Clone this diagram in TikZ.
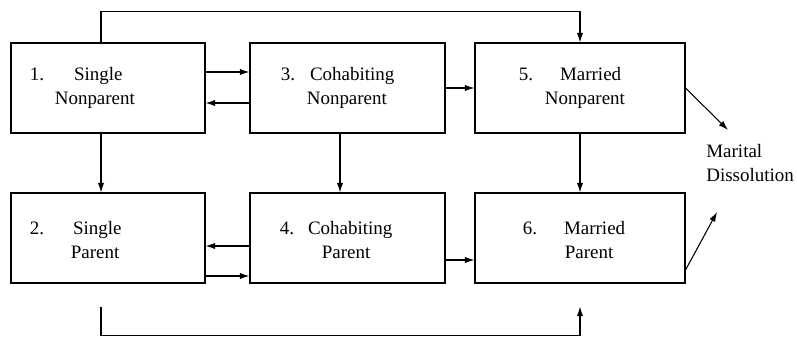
\documentclass[tikz,border=0pt]{standalone}
\usepackage{fontspec}
\setmainfont{Liberation Serif}
\usetikzlibrary{positioning,arrows.meta}

\newcommand{\statetext}[5]{\begin{tabular}{@{}l@{}}#1\hspace{#2}#3\\\hspace{#4}#5\end{tabular}}

\tikzset{
	statebox/.style = {draw, line width=0.6pt, minimum height=1.8cm, inner sep=0pt},
	statelabel/.style = {inner sep=0pt, anchor=west, font=\fontsize{10.8}{13.5}\selectfont},
	flow/.style = {line width=0.6pt, -{Latex[length=5.5pt, width=3.6pt]}}
}

\begin{document}
\begin{tikzpicture}
		\useasboundingbox (0, 0) rectangle (15.94, 6.72);
		% top row
		\node [statebox, minimum width=3.88cm] (singlenp) at (2.16, 4.96) {};
		\node [statebox, minimum width=3.9cm] (cohabnp) at (6.95, 4.96) {};
		\node [statebox, minimum width=4.2cm] (marriednp) at (11.6, 4.96) {};
		% bottom row
		\node [statebox, minimum width=3.88cm] (singlep) at (2.16, 1.96) {};
		\node [statebox, minimum width=3.9cm] (cohabp) at (6.95, 1.96) {};
		\node [statebox, minimum width=4.2cm] (marriedp) at (11.6, 1.96) {};
		\node [statelabel, right=0.38cm of singlenp.west] (singlenptext) {\statetext{1.}{0.6cm}{Single}{0.5cm}{Nonparent}};
		\node [statelabel, right=0.62cm of cohabnp.west] (cohabnptext) {\statetext{3.}{0.3cm}{Cohabiting}{0.52cm}{Nonparent}};
		\node [statelabel, right=0.88cm of marriednp.west] (marriednptext) {\statetext{5.}{0.54cm}{Married}{0.52cm}{Nonparent}};
		\node [statelabel, right=0.38cm of singlep.west, yshift=-0.08cm] (singleptext) {\statetext{2.}{0.58cm}{Single}{0.82cm}{Parent}};
		\node [statelabel, right=0.6cm of cohabp.west, yshift=-0.08cm] (cohabptext) {\statetext{4.}{0.28cm}{Cohabiting}{0.84cm}{Parent}};
		\node [statelabel, right=0.96cm of marriedp.west, yshift=-0.08cm] (marriedptext) {\statetext{6.}{0.54cm}{Married}{0.84cm}{Parent}};
		\node [statelabel, align=left] (dissolution) at (14.12, 3.46) {Marital\\Dissolution};
		\draw [flow] ([yshift=0.32cm]singlenp.east) -- ([yshift=0.32cm]cohabnp.west);
		\draw [flow] ([yshift=-0.3cm]cohabnp.west) -- ([yshift=-0.3cm]singlenp.east);
		\draw [flow] (cohabnp.east) -- (marriednp.west);
		\draw [flow] ([yshift=-0.16cm]cohabp.west) -- ([yshift=-0.16cm]singlep.east);
		\draw [flow] ([yshift=-0.76cm]singlep.east) -- ([yshift=-0.76cm]cohabp.west);
		\draw [flow] ([yshift=-0.44cm]cohabp.east) -- ([yshift=-0.44cm]marriedp.west);
		\draw [flow] ([xshift=-0.14cm]singlenp.south) -- ([xshift=-0.14cm]singlep.north);
		\draw [flow] ([xshift=-0.15cm]cohabnp.south) -- ([xshift=-0.15cm]cohabp.north);
		\draw [flow] (marriednp.south) -- (marriedp.north);
		\draw [flow] ([xshift=-0.14cm]singlenp.north) -- ++(0, 0.62) -| (marriednp.north);
		\coordinate (exitsingle) at ([xshift=-0.14cm, yshift=-0.46cm]singlep.south);
		\coordinate (entermarried) at ([yshift=-0.46cm]marriedp.south);
		\draw [flow] (exitsingle) -- ++(0, -0.58) -| (entermarried);
		\coordinate (dissupper) at (14.56, 4.12);
		\coordinate (disslower) at (14.34, 2.48);
		\draw [flow] (marriednp.east) -- (dissupper);
		\draw [flow] ([yshift=-0.64cm]marriedp.east) -- (disslower);
	\end{tikzpicture}
\end{document}
